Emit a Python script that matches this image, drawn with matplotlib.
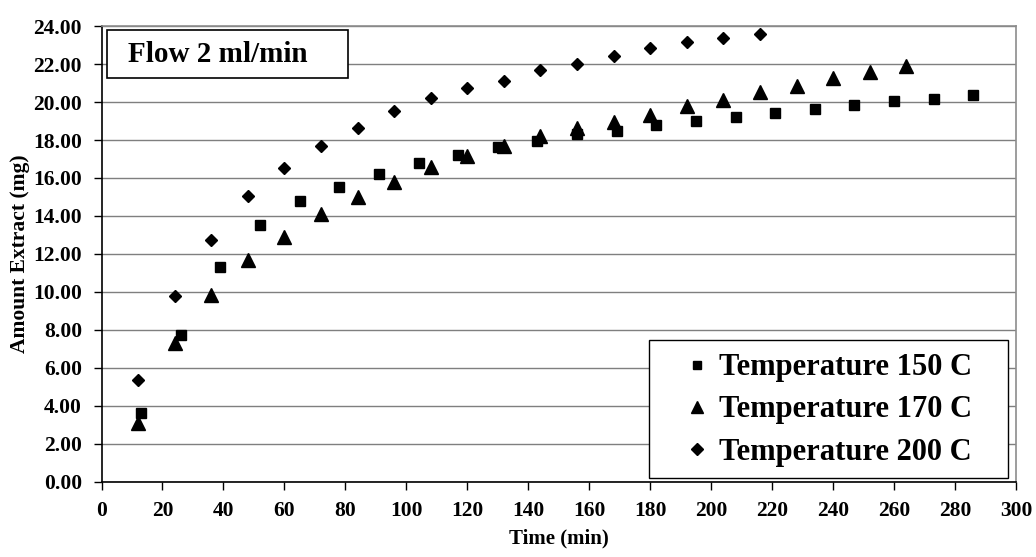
import matplotlib
matplotlib.use("Agg")
import matplotlib.pyplot as plt
from matplotlib.patches import Rectangle

# данные
time_150 = [13, 26, 39, 52, 65, 78, 91, 104, 117, 130, 143, 156, 169, 182, 195, 208, 221, 234, 247, 260, 273, 286]
amount_150 = [3.61, 7.74, 11.33, 13.53, 14.79, 15.54, 16.20, 16.79, 17.23, 17.63, 17.96, 18.30,
              18.49, 18.80, 19.00, 19.21, 19.42, 19.65, 19.86, 20.07, 20.18, 20.39]

time_170 = [12, 24, 36, 48, 60, 72, 84, 96, 108, 120, 132, 144, 156, 168, 180, 192, 204, 216, 228, 240, 252, 264]
amount_170 = [3.09, 7.30, 9.84, 11.68, 12.91, 14.09, 15.02, 15.80, 16.60, 17.14, 17.67, 18.20,
              18.63, 18.93, 19.33, 19.77, 20.12, 20.53, 20.82, 21.26, 21.58, 21.88]

time_200 = [12, 24, 36, 48, 60, 72, 84, 96, 108, 120, 132, 144, 156, 168, 180, 192, 204, 216]
amount_200 = [5.37, 9.79, 12.74, 15.05, 16.54, 17.70, 18.65, 19.55, 20.20, 20.72, 21.12, 21.70,
              22.00, 22.44, 22.84, 23.16, 23.37, 23.58]

labels = ["Temperature 150 C", "Temperature 170 C", "Temperature 200 C"]
x_ticks = list(range(0, 301, 20))
y_ticks = [0, 2, 4, 6, 8, 10, 12, 14, 16, 18, 20, 22, 24]

plt.rcParams['font.family'] = ['Liberation Serif', 'DejaVu Serif']
plt.rcParams['font.weight'] = 'bold'

fig = plt.figure(figsize=(10.36, 5.57), dpi=100)
ax = fig.add_axes([0.098, 0.1347, 0.8827, 0.8186])

ax.plot(time_150, amount_150, linestyle='none', marker='s', markersize=6.8, color='black', label=labels[0])
ax.plot(time_170, amount_170, linestyle='none', marker='^', markersize=9.5, color='black', label=labels[1])
ax.plot(time_200, amount_200, linestyle='none', marker='D', markersize=6.6, color='black', label=labels[2])

ax.set_xlim(0, 300)
ax.set_ylim(0, 24)
ax.set_xticks(x_ticks)
ax.set_yticks(y_ticks)
ax.set_yticklabels([f"{v:.2f}" for v in y_ticks])
ax.tick_params(axis='x', direction='out', length=6, width=1, labelsize=15.5, pad=8)
ax.tick_params(axis='y', direction='out', length=6, width=1, labelsize=15.5, pad=8)

# сетка только по Y
ax.yaxis.grid(True, color='#7f7f7f', linewidth=1)
ax.set_axisbelow(True)

ax.spines['left'].set_color('black')
ax.spines['bottom'].set_color('black')
ax.spines['top'].set_color('#8c8c8c')
ax.spines['right'].set_color('#8c8c8c')
for s in ax.spines.values():
    s.set_linewidth(1.2)

ax.set_xlabel("Time (min)", fontsize=15, fontweight='bold', labelpad=5)
ax.set_ylabel("Amount Extract (mg)", fontsize=15.5, fontweight='bold', labelpad=2)

# рамка с подписью
ax.add_patch(Rectangle((0.006, 0.886), 0.2636, 0.105, transform=ax.transAxes,
                       facecolor='white', edgecolor='black', linewidth=1.2, zorder=5))
ax.text(0.029, 0.9386, "Flow 2 ml/min", transform=ax.transAxes, fontsize=21,
        fontweight='bold', va='center', ha='left', zorder=6)

# рамка легенды отдельно
ax.add_patch(Rectangle((0.5987, 0.0088), 0.3926, 0.3026, transform=ax.transAxes,
                       facecolor='white', edgecolor='black', linewidth=1.0, zorder=5))
leg = ax.legend(loc='center left', bbox_to_anchor=(0.638, 0.158), borderaxespad=0,
                frameon=False, fontsize=22, borderpad=0,
                handlelength=0.8, handletextpad=0.3, labelspacing=0.43,
                markerscale=0.85)
leg.set_zorder(7)

fig.savefig("out.png", dpi=100)
